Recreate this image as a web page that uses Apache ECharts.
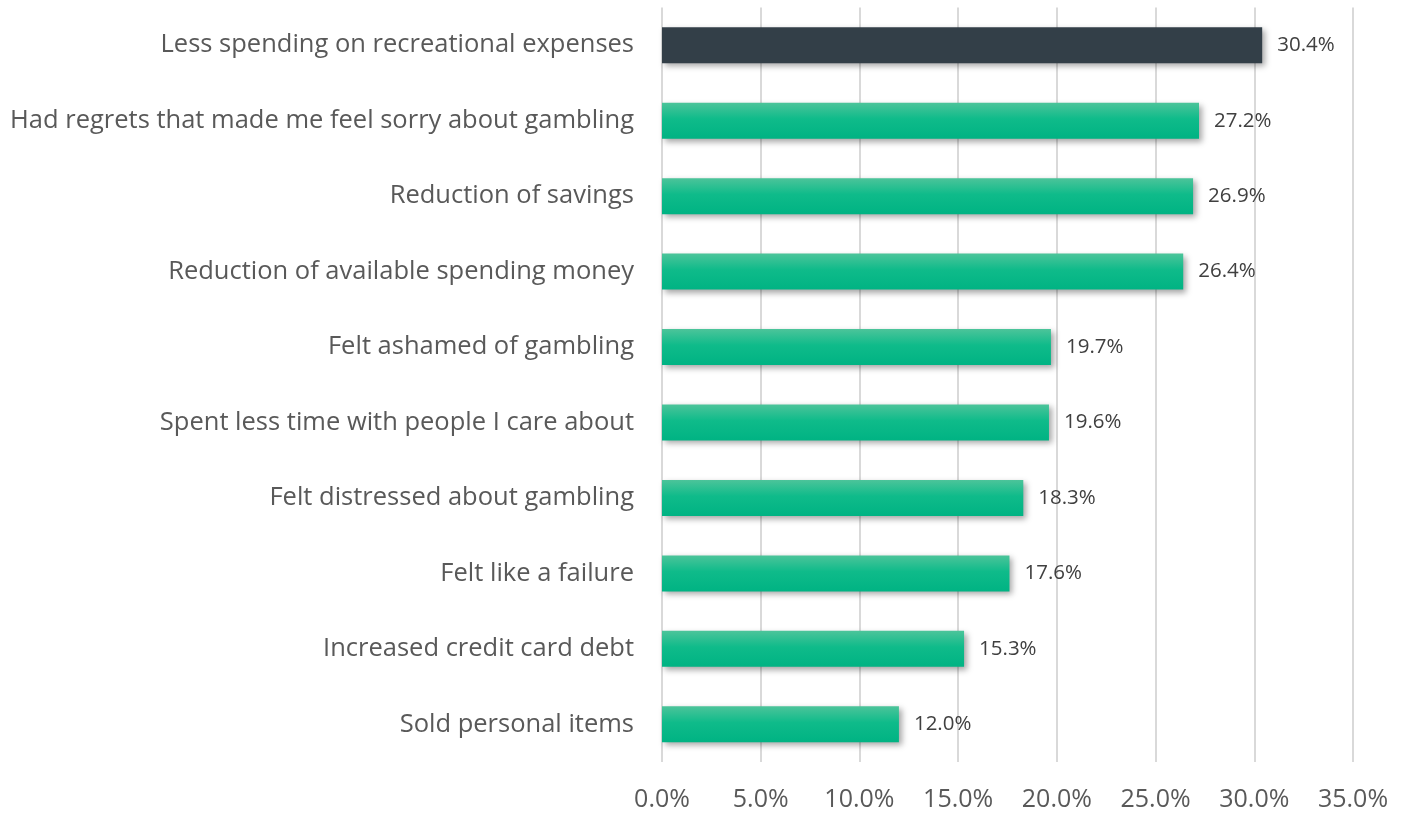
<!DOCTYPE html>
<html><head><meta charset="utf-8">
<script src="https://cdn.jsdelivr.net/npm/echarts@6/dist/echarts.min.js"></script>
<style>html,body{margin:0;padding:0;background:#fff}#c{width:1407px;height:817px}</style>
</head><body><div id="c"></div>
<script>
const categories = [
  "Less spending on recreational expenses",
  "Had regrets that made me feel sorry about gambling",
  "Reduction of savings",
  "Reduction of available spending money",
  "Felt ashamed of gambling",
  "Spent less time with people I care about",
  "Felt distressed about gambling",
  "Felt like a failure",
  "Increased credit card debt",
  "Sold personal items"
];
const values = [30.4, 27.2, 26.9, 26.4, 19.7, 19.6, 18.3, 17.6, 15.3, 12.0];
const highlightIndex = 0;
const xTicks = [0, 5, 10, 15, 20, 25, 30, 35];

const green = {type:'linear',x:0,y:0,x2:0,y2:1,colorStops:[{offset:0,color:'#4cc49a'},{offset:0.45,color:'#0fbb8a'},{offset:1,color:'#00b383'}]};
const data = values.map((v,i)=>({value:v,itemStyle:{color: i===highlightIndex ? '#333f48' : green}}));

const chart = echarts.init(document.getElementById('c'));
chart.setOption({
  animation:false,
  grid:{left:662,right:54,top:7.5,bottom:55,containLabel:false},
  xAxis:{type:'value',min:xTicks[0],max:xTicks[xTicks.length-1],interval:5,
    axisLine:{show:false},axisTick:{show:false},
    splitLine:{lineStyle:{color:'#d9d9d9',width:2}},
    axisLabel:{formatter:v=>v.toFixed(1)+'%',fontFamily:'Open Sans',fontSize:25,color:'#595959',margin:25}},
  yAxis:{type:'category',data:categories,inverse:true,
    axisLine:{show:false},axisTick:{show:false},
    axisLabel:{fontFamily:'Open Sans',fontSize:25.5,color:'#595959',margin:28}},
  series:[{type:'bar',data:data,barWidth:36,
    itemStyle:{shadowColor:'rgba(0,0,0,0.35)',shadowBlur:6,shadowOffsetX:3,shadowOffsetY:3},
    label:{show:true,position:'right',distance:15,formatter:p=>p.value.toFixed(1)+'%',
      fontFamily:'Open Sans',fontSize:20.5,color:'#404040'}}]
});
</script></body></html>
